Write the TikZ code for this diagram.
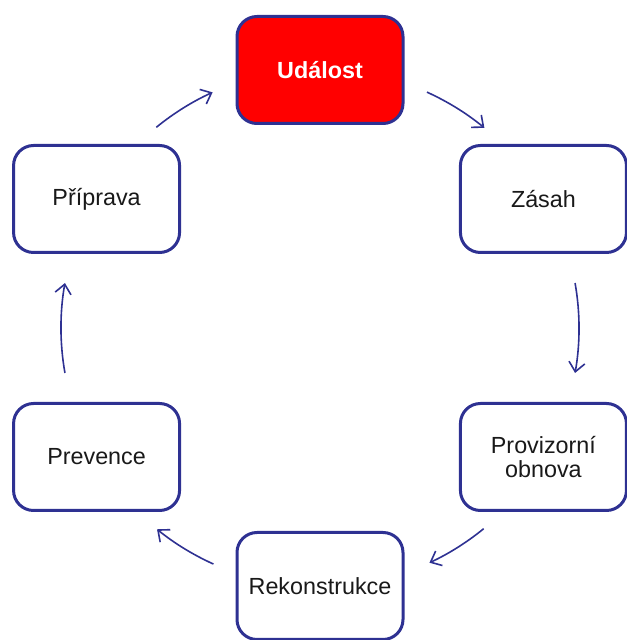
\documentclass[tikz,border=0pt]{standalone}
\usepackage{fontspec}
\setmainfont{Liberation Sans}
\usetikzlibrary{arrows.meta}
\definecolor{bord}{RGB}{46,49,146}
\definecolor{evred}{RGB}{255,0,0}
\begin{document}
\begin{tikzpicture}[x=0.75pt,y=0.75pt,
  box/.style={draw=bord,line width=2.25pt,rounded corners=15pt,fill=white,
    minimum width=124.5pt,minimum height=80.25pt,align=center,
    font=\fontsize{17.5}{18}\selectfont,text=black!90},
  arr/.style={draw=bord,line width=1.2pt,-{Straight Barb[length=7pt,width=12pt]}}]
\useasboundingbox (0,0) rectangle (627,640);
\coordinate (c) at (320,312);
\node[box,fill=evred,text=white,font=\fontsize{17.5}{18}\selectfont\bfseries] (ud) at ([shift={(90:258)}]c) {Událost};
\node[box] (za) at ([shift={(30:258)}]c) {Zásah};
\node[box] (pr) at ([shift={(-30:258)}]c) {Provizorní\\obnova};
\node[box] (re) at ([shift={(-90:258)}]c) {Rekonstrukce};
\node[box] (pv) at ([shift={(-150:258)}]c) {Prevence};
\node[box] (pp) at ([shift={(150:258)}]c) {Příprava};
\draw[arr] ([shift={(65.6:259)}]c) arc[start angle=65.6,end angle=50.6,radius=194.25pt];
\draw[arr] ([shift={(10:259)}]c) arc[start angle=10,end angle=-10,radius=194.25pt];
\draw[arr] ([shift={(-50.8:259)}]c) arc[start angle=-50.8,end angle=-65,radius=194.25pt];
\draw[arr] ([shift={(-114.3:259)}]c) arc[start angle=-114.3,end angle=-129,radius=194.25pt];
\draw[arr] ([shift={(190:259)}]c) arc[start angle=190,end angle=170,radius=194.25pt];
\draw[arr] ([shift={(129.2:259)}]c) arc[start angle=129.2,end angle=114.5,radius=194.25pt];
\end{tikzpicture}
\end{document}
